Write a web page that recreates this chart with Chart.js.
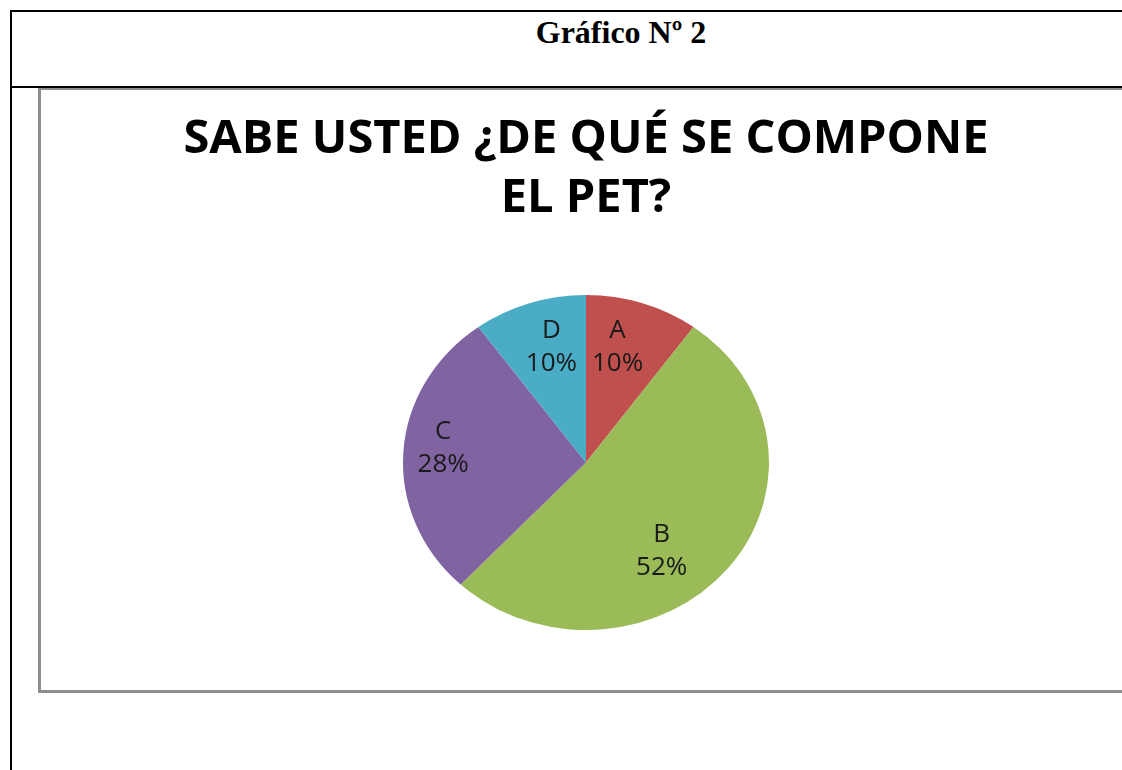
<!DOCTYPE html>
<html>
<head>
<meta charset="utf-8">
<script src="https://cdn.jsdelivr.net/npm/chart.js@4"></script>
<style>
  html, body { margin: 0; padding: 0; width: 1122px; height: 770px; overflow: hidden; background: #fff; }
  .line { position: absolute; background: #000; }
  #header { position: absolute; left: 421px; top: 16px; width: 400px; text-align: center;
            font: bold 32px/32px "Liberation Serif", "Times New Roman", serif; color: #000; }
  #frame { position: absolute; left: 38px; top: 87px; width: 1120px; height: 600px;
           border: 3px solid #8e8e8e; }
  #wrap { position: absolute; left: 40px; top: 90px; width: 1092px; height: 598px; }
</style>
</head>
<body>
<div id="frame"></div>
<div class="line" style="left:10px; top:10px; width:1112px; height:2px;"></div>
<div class="line" style="left:10px; top:86px; width:1112px; height:2px;"></div>
<div class="line" style="left:10px; top:10px; width:2px; height:760px;"></div>
<div id="header">Gráfico Nº 2</div>
<div id="wrap"><canvas id="pieChart"></canvas></div>

<script>
// --- DATOS ---
const categories = ['A', 'B', 'C', 'D'];
const percentages = [10, 52, 28, 10];
const chartTitle = ['SABE USTED ¿DE QUÉ SE COMPONE', 'EL PET?'];

const sliceColors = ['#C0504D', '#9BBB59', '#8064A2', '#4BACC6'];

// el gráfico original es una elipse, no un círculo
const squash = 167.5 / 183;

// ajuste fino de etiquetas (px) respecto al punto medio del sector
const labelNudge = [[-8, -4], [-23, 14], [-15, -7], [5, -4]];

const ellipseAndLabels = {
    id: 'ellipseAndLabels',
    beforeDatasetsDraw(chart) {
        const arc = chart.getDatasetMeta(0).data[0];
        const ctx = chart.ctx;
        ctx.save();
        ctx.translate(arc.x, arc.y);
        ctx.scale(1, squash);
        ctx.translate(-arc.x, -arc.y);
    },
    afterDatasetsDraw(chart) {
        const ctx = chart.ctx;
        ctx.restore();

        const meta = chart.getDatasetMeta(0);
        const data = chart.data.datasets[0].data;
        const total = data.reduce((a, b) => a + b, 0);

        ctx.save();
        ctx.font = '26px "Open Sans", sans-serif';
        ctx.fillStyle = '#1a1a1a';
        ctx.textAlign = 'center';
        ctx.textBaseline = 'middle';
        meta.data.forEach((arc, i) => {
            const p = arc.getProps(['x', 'y', 'startAngle', 'endAngle', 'outerRadius'], true);
            const mid = (p.startAngle + p.endAngle) / 2;
            const r = p.outerRadius * 0.7;
            const x = p.x + Math.cos(mid) * r + labelNudge[i][0];
            const y = p.y + Math.sin(mid) * r * squash + labelNudge[i][1];
            const pct = Math.round(data[i] / total * 100) + '%';
            ctx.fillText(chart.data.labels[i], x, y - 16.5);
            ctx.fillText(pct, x, y + 16.5);
        });
        ctx.restore();
    }
};

new Chart(document.getElementById('pieChart'), {
    type: 'pie',
    data: {
        labels: categories,
        datasets: [{
            data: percentages,
            backgroundColor: sliceColors,
            borderWidth: 0
        }]
    },
    options: {
        responsive: true,
        maintainAspectRatio: false,
        animation: false,
        events: [],
        layout: { padding: { top: 0, bottom: 42.5, left: 0, right: 0 } },
        plugins: {
            legend: { display: false },
            tooltip: { enabled: false },
            title: {
                display: true,
                text: chartTitle,
                color: '#000',
                font: { family: '"Open Sans", sans-serif', size: 47, weight: 'bold', lineHeight: '59.5px' },
                padding: { top: 19.75, bottom: 50.75 }
            }
        }
    },
    plugins: [ellipseAndLabels]
});
</script>
</body>
</html>
